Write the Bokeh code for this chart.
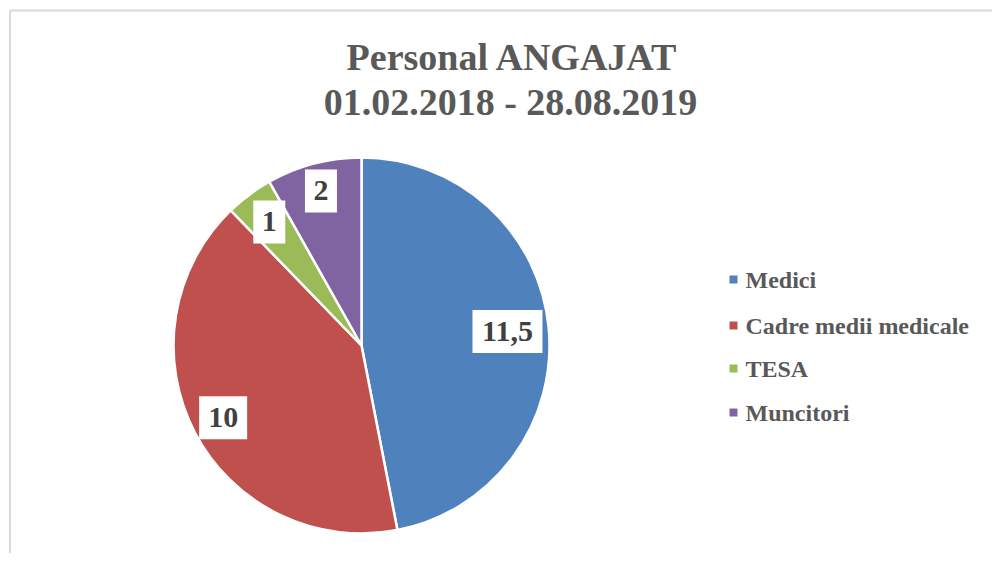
import numpy as np
from bokeh.plotting import figure
from bokeh.models import Range1d, ColumnDataSource
from bokeh.core.properties import value
from bokeh.embed import file_html
from bokeh.resources import INLINE

categories = ["Medici", "Cadre medii medicale", "TESA", "Muncitori"]
values = [11.5, 10, 1, 2]
labels = ["11,5", "10", "1", "2"]
colors = ["#4F81BD", "#C0504D", "#9BBB59", "#8064A2"]
title_lines = ["Personal ANGAJAT", "01.02.2018 - 28.08.2019"]

W, H = 992, 553
def X(sx):
    return sx
def Y(sy):
    return H - sy

p = figure(width=W, height=H, x_range=Range1d(0, W), y_range=Range1d(0, H),
           output_backend="svg", toolbar_location=None, min_border=0)
p.axis.visible = False
p.grid.visible = False
p.outline_line_color = None
p.background_fill_color = "white"
p.border_fill_color = "white"

# chart frame
p.segment(x0=[X(9.5), X(9.5)], y0=[Y(10), Y(10)], x1=[X(9.5), X(1000)], y1=[Y(570), Y(10)],
          line_color="#D9D9D9", line_width=2)

# pie
cx, cy, R = X(361), Y(345), 188
vals = np.array(values, dtype=float)
fr = vals / vals.sum()
cum = np.concatenate([[0], np.cumsum(fr)])
start = np.pi / 2 - cum[:-1] * 2 * np.pi
end = np.pi / 2 - cum[1:] * 2 * np.pi
src = ColumnDataSource(dict(start=start, end=end, color=colors, cat=categories))
p.wedge(x=cx, y=cy, radius=R, start_angle="start", end_angle="end", direction="clock",
        fill_color="color", line_color="white", line_width=2.5, source=src)

# data labels (best-fit style placement, radius as fraction of pie radius)
label_r = np.array([0.78, 0.83, 0.82, 0.85])
mid = (start + end) / 2
lx = cx + label_r * R * np.cos(mid)
ly = cy + label_r * R * np.sin(mid)
bw = [70, 48, 32, 32]
p.rect(x=lx, y=ly, width=bw, height=43, fill_color="white", line_color=None)
p.text(x=lx, y=ly, text=labels, text_font=value("Liberation Serif"), text_font_style="bold",
       text_font_size="30px", text_color="#404040", text_align="center", text_baseline="middle")

# title
p.text(x=[X(512), X(510)], y=[Y(56), Y(101)], text=title_lines, text_font=value("Liberation Serif"),
       text_font_style="bold", text_font_size="38px", text_color="#595959",
       text_align="center", text_baseline="middle")

# legend
ly_leg = [Y(279), Y(325), Y(368), Y(412)]
p.rect(x=[X(733)] * 4, y=ly_leg, width=8, height=8, fill_color=colors, line_color=None)
p.text(x=[X(745)] * 4, y=ly_leg, text=categories, text_font=value("Liberation Serif"),
       text_font_style="bold", text_font_size="24px", text_color="#595959",
       text_align="left", text_baseline="middle")

open("out.html", "w").write(file_html(p, INLINE))
